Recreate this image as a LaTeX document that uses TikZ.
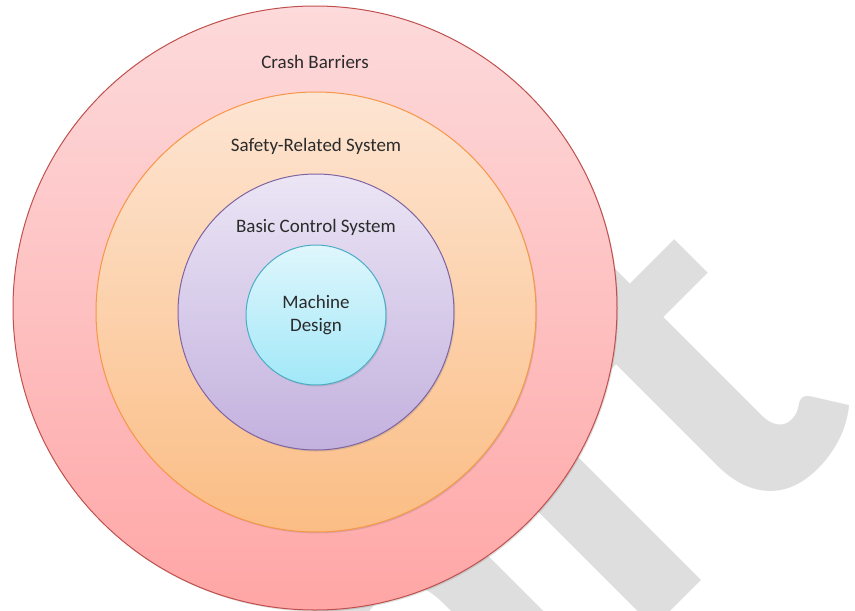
\documentclass[tikz,border=0pt]{standalone}
\usepackage{fontspec}
\setmainfont{Carlito}
\usepackage{tikz,xcolor}
\usetikzlibrary{shadows,calc}
\definecolor{inktext}{HTML}{2B2B2B}
\definecolor{wmgray}{HTML}{DEDEDE}
\definecolor{redline}{HTML}{C0504D}
\definecolor{redtop}{HTML}{FDDADB}
\definecolor{redbot}{HTML}{FFA6A6}
\definecolor{orgline}{HTML}{F79646}
\definecolor{orgtop}{HTML}{FDE5D3}
\definecolor{orgbot}{HTML}{FBBD84}
\definecolor{vioine}{HTML}{8064A2}
\definecolor{viotop}{HTML}{EBE5F5}
\definecolor{viobot}{HTML}{C3B1DE}
\definecolor{cyaline}{HTML}{4BACC6}
\definecolor{cyatop}{HTML}{DFF6FC}
\definecolor{cyabot}{HTML}{A2E8F8}
\tikzstyle{ring} = [circle, inner sep=0pt, line width=1pt, text=inktext,
    drop shadow={shadow xshift=1.2pt, shadow yshift=-1.5pt, opacity=0.25}]
\tikzstyle{lbl} = [text=inktext, inner sep=0pt, font=\fontsize{19}{23}\selectfont]

\begin{document}
\begin{tikzpicture}[x=1pt, y=-1pt]
\useasboundingbox (0,0) rectangle (855,611);
% watermark behind the rings
\node[text=wmgray, rotate=45, anchor=base east, inner sep=0pt,
      font=\bfseries\fontsize{540}{540}\selectfont] (mark) at (868,414) {Draft};
% rings, outside in
\node[ring, draw=redline, top color=redtop, bottom color=redbot,
      minimum size=604pt] (barrier) at (315,308) {};
\node[ring, draw=orgline, top color=orgtop, bottom color=orgbot,
      minimum size=440pt] (safety) at (316,312) {};
\node[ring, draw=vioine, top color=viotop, bottom color=viobot,
      minimum size=276pt] (control) at (316,312) {};
\node[ring, draw=cyaline, top color=cyatop, bottom color=cyabot,
      minimum size=140pt, align=center,
      font=\fontsize{19}{23}\selectfont] (machine) at (316,315) {Machine\\Design};
% ring titles
\node[lbl] (barrierlbl) at ($(barrier.north)+(0,56)$) {Crash Barriers};
\node[lbl] (safetylbl) at ($(safety.north)+(0,55)$) {Safety-Related System};
\node[lbl] (controllbl) at ($(control.north)+(0,54)$) {Basic Control System};
\end{tikzpicture}
\end{document}
